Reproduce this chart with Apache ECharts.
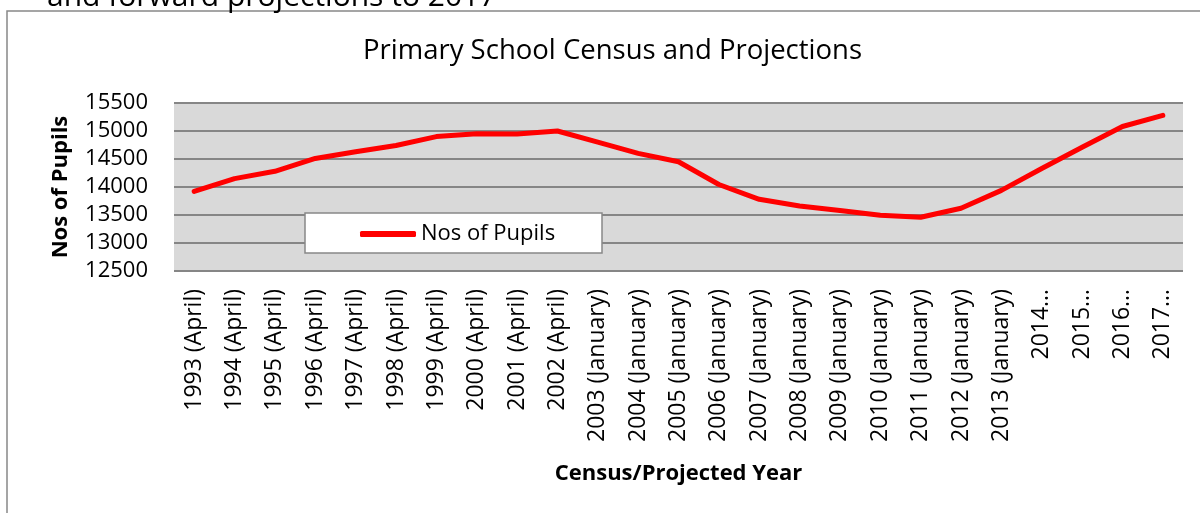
<!DOCTYPE html>
<html>
<head>
<meta charset="utf-8">
<script src="https://cdn.jsdelivr.net/npm/echarts@6/dist/echarts.min.js"></script>
<style>
  html, body { margin: 0; padding: 0; background: #fff; }
  #main { width: 1200px; height: 513px; }
</style>
</head>
<body>
<div id="main"></div>
<script>
// categories and values
var years = [
    '1993 (April)', '1994 (April)', '1995 (April)', '1996 (April)', '1997 (April)',
    '1998 (April)', '1999 (April)', '2000 (April)', '2001 (April)', '2002 (April)',
    '2003 (January)', '2004 (January)', '2005 (January)', '2006 (January)', '2007 (January)',
    '2008 (January)', '2009 (January)', '2010 (January)', '2011 (January)', '2012 (January)',
    '2013 (January)', '2014…', '2015…', '2016…', '2017…'
];
var pupils = [
    13920, 14150, 14280, 14510, 14630,
    14740, 14900, 14950, 14945, 15000,
    14800, 14600, 14450, 14045, 13780,
    13660, 13580, 13495, 13460, 13620,
    13940, 14330, 14710, 15080, 15280
];
var yTicks = { min: 12500, max: 15500, step: 500 };

var FONT = '"Open Sans", "Noto Sans", sans-serif';

var myChart = echarts.init(document.getElementById('main'));

var option = {
    backgroundColor: '#fff',
    animation: false,
    title: {
        text: 'Primary School Census and Projections',
        left: 358,
        top: 32,
        textStyle: { fontFamily: FONT, fontSize: 27.5, fontWeight: 'normal', color: '#000' }
    },
    graphic: [
        // cut-off caption from the page above the chart
        {
            type: 'text', z: 20,
            style: {
                x: 47, y: 12, verticalAlign: 'bottom',
                text: 'and forward projections to 2017',
                font: '30px "Open Sans", sans-serif', fill: '#000'
            }
        },
        // chart frame
        {
            type: 'rect', shape: { x: 7, y: 11, width: 1300, height: 600 },
            style: { fill: '#fff', stroke: '#888', lineWidth: 1.5 }, z: -10
        },
        // legend box
        {
            type: 'rect', shape: { x: 305, y: 213, width: 297, height: 40 },
            style: { fill: '#fff', stroke: '#888', lineWidth: 1.5 }, z: 5
        }
    ],
    legend: {
        left: 355,
        top: 218,
        itemWidth: 56,
        itemHeight: 6,
        itemGap: 4,
        z: 10,
        icon: 'roundRect',
        textStyle: { fontFamily: FONT, fontSize: 22, color: '#000' },
        data: ['Nos of Pupils']
    },
    grid: {
        left: 174,
        right: 17,
        top: 103,
        bottom: 242,
        show: true,
        backgroundColor: '#d9d9d9',
        borderWidth: 0
    },
    xAxis: {
        type: 'category',
        data: years,
        boundaryGap: true,
        name: 'Census/Projected Year',
        nameLocation: 'middle',
        nameGap: 192,
        nameTextStyle: { fontFamily: FONT, fontSize: 22, fontWeight: 'bold', color: '#000' },
        axisLine: { show: false },
        axisTick: { show: false },
        axisLabel: {
            interval: 0,
            rotate: 90,
            margin: 18,
            fontFamily: FONT,
            fontSize: 23,
            color: '#000'
        }
    },
    yAxis: {
        type: 'value',
        min: yTicks.min,
        max: yTicks.max,
        interval: yTicks.step,
        name: 'Nos of Pupils',
        nameLocation: 'middle',
        nameGap: 102,
        nameRotate: 90,
        nameTextStyle: { fontFamily: FONT, fontSize: 22, fontWeight: 'bold', color: '#000' },
        axisLine: { show: false },
        axisTick: { show: false },
        axisLabel: {
            margin: 26, fontFamily: FONT, fontSize: 22, color: '#000',
            formatter: function (v) { return String(v); }
        },
        splitLine: { lineStyle: { color: '#868686', width: 2 } }
    },
    series: [{
        name: 'Nos of Pupils',
        type: 'line',
        data: pupils,
        symbol: 'none',
        itemStyle: { color: '#ff0000' },
        lineStyle: { color: '#ff0000', width: 5, cap: 'round', join: 'round' }
    }]
};

myChart.setOption(option);
</script>
</body>
</html>
